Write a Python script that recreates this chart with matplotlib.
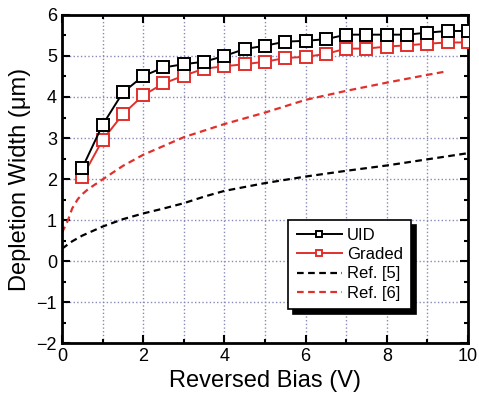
import matplotlib.pyplot as plt
from matplotlib.ticker import MultipleLocator
from matplotlib.patches import Shadow

plt.rcParams['font.family'] = ['Liberation Sans', 'DejaVu Sans']

# measured data
bias = [0.5, 1, 1.5, 2, 2.5, 3, 3.5, 4, 4.5, 5, 5.5, 6, 6.5, 7, 7.5, 8, 8.5, 9, 9.5, 10]
uid = [2.27, 3.32, 4.11, 4.51, 4.72, 4.80, 4.86, 5.00, 5.17, 5.25,
       5.35, 5.37, 5.41, 5.52, 5.52, 5.52, 5.52, 5.57, 5.61, 5.61]
graded = [2.05, 2.95, 3.58, 4.04, 4.33, 4.52, 4.69, 4.75, 4.80, 4.86,
          4.95, 4.98, 5.05, 5.18, 5.18, 5.23, 5.26, 5.30, 5.33, 5.33]

# reference curves
ref5_v = [0, 0.25, 0.5, 1, 1.5, 2, 2.5, 3, 3.5, 4, 5, 6, 7, 8, 9, 10]
ref5_w = [0.3, 0.48, 0.62, 0.84, 1.02, 1.16, 1.28, 1.41, 1.57, 1.71, 1.90, 2.06, 2.20, 2.33, 2.48, 2.63]
ref6_v = [0, 0.15, 0.25, 0.39, 0.5, 0.64, 1, 1.5, 2, 3, 4, 5, 6, 7, 8, 9, 9.5]
ref6_w = [0.69, 1.0, 1.28, 1.51, 1.63, 1.75, 1.99, 2.32, 2.59, 3.02, 3.34, 3.62, 3.93, 4.15, 4.35, 4.54, 4.63]

red = '#e0302c'

fig = plt.figure(figsize=(4.79, 4.05), dpi=100)
ax = fig.add_axes([0.1294, 0.153, 0.8476, 0.81])

ax.plot(bias, uid, '-s', color='black', mfc='white', mec='black', ms=8, mew=1.4, lw=1.4, label='UID', zorder=4)
ax.plot(bias, graded, '-s', color=red, mfc='white', mec=red, ms=8, mew=1.4, lw=1.4, label='Graded', zorder=3)
ax.plot(ref5_v, ref5_w, '--', color='black', lw=1.6, dashes=(3, 2), label='Ref. [5]')
ax.plot(ref6_v, ref6_w, '--', color=red, lw=1.6, dashes=(3, 2), label='Ref. [6]')

ax.set_xlim(0, 10)
ax.set_ylim(-2, 6)
ax.xaxis.set_major_locator(MultipleLocator(2))
ax.xaxis.set_minor_locator(MultipleLocator(1))
ax.yaxis.set_major_locator(MultipleLocator(1))
ax.yaxis.set_minor_locator(MultipleLocator(0.5))
ax.tick_params(which='both', direction='in', top=True, right=True, width=1.5, labelsize=13)
ax.tick_params(which='major', length=6)
ax.tick_params(which='minor', length=3)
ax.grid(True, which='major', axis='y', color='#8a8ab8', ls=':', lw=1)
ax.grid(True, which='both', axis='x', color='#8a8ab8', ls=':', lw=1)
for s in ax.spines.values():
    s.set_linewidth(2)

ax.set_xlabel('Reversed Bias (V)', fontsize=17)
ax.set_ylabel('Depletion Width (\u03bcm)', fontsize=17)

leg = ax.legend(loc='lower right', bbox_to_anchor=(0.860, 0.104), borderaxespad=0,
                fontsize=12, frameon=True, fancybox=False, borderpad=0.5, markerscale=0.55,
                handlelength=2.7, handletextpad=0.3, labelspacing=0.25)
leg.get_frame().set_edgecolor('black')
leg.get_frame().set_linewidth(1.2)
leg.get_frame().set_alpha(1)

fig.canvas.draw()
sh = Shadow(leg.legendPatch, 3.6, -3.6, facecolor='black', edgecolor='black', alpha=1)
sh.set_zorder(4.9)
ax.add_artist(sh)

fig.savefig('out.png', dpi=100)
